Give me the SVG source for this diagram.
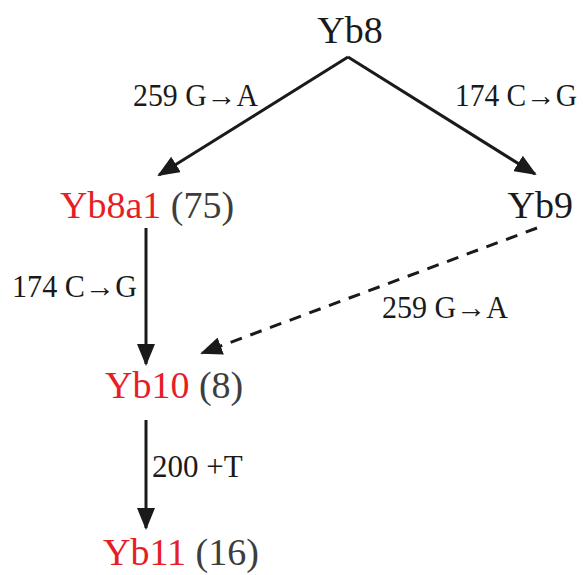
<svg xmlns="http://www.w3.org/2000/svg" width="583" height="575" viewBox="0 0 583 575">
<style>
.n{font-family:"Liberation Serif","Times New Roman",serif;font-size:38px;fill:#1a1a1a}
.r{fill:#e61e25}
.c{fill:#3d3d3d}
.l{font-family:"Liberation Serif","Times New Roman",serif;font-size:31px;fill:#1a1a1a}
.a{font-weight:bold}
.e{stroke:#1a1a1a;stroke-width:3;fill:none}
.d{stroke-dasharray:12 9}
</style>
<defs>
<marker id="ah" markerUnits="userSpaceOnUse" markerWidth="22" markerHeight="18" viewBox="0 0 22 18" refX="20" refY="9" orient="auto">
<path d="M0,0 L22,9 L0,18 Z" fill="#1a1a1a"/>
</marker>
</defs>
<rect width="583" height="575" fill="#fff"/>
<g id="connectors">
<line class="e" x1="348" y1="57" x2="159" y2="175" marker-end="url(#ah)"/>
<line class="e" x1="348" y1="57" x2="535" y2="174" marker-end="url(#ah)"/>
<line class="e" x1="146" y1="228" x2="146" y2="364" marker-end="url(#ah)"/>
<line class="e d" x1="537" y1="228" x2="202" y2="353" marker-end="url(#ah)"/>
<line class="e" x1="146" y1="420" x2="146" y2="528" marker-end="url(#ah)"/>
<text class="l" x="133" y="106" textLength="125" lengthAdjust="spacingAndGlyphs">259 G<tspan class="a">→</tspan>A</text>
<text class="l" x="455" y="106" textLength="122" lengthAdjust="spacingAndGlyphs">174 C<tspan class="a">→</tspan>G</text>
<text class="l" x="12" y="297" textLength="125" lengthAdjust="spacingAndGlyphs">174 C<tspan class="a">→</tspan>G</text>
<text class="l" x="382" y="318" textLength="126" lengthAdjust="spacingAndGlyphs">259 G<tspan class="a">→</tspan>A</text>
<text class="l" x="152" y="477">200 +T</text>
</g>
<g id="yb8"><text class="n" x="350" y="43" text-anchor="middle">Yb8</text></g>
<g id="yb8a1"><text class="n" x="60" y="218"><tspan class="r">Yb8a1</tspan> <tspan class="c">(75)</tspan></text></g>
<g id="yb9"><text class="n" x="573" y="218" text-anchor="end">Yb9</text></g>
<g id="yb10"><text class="n" x="105" y="398"><tspan class="r">Yb10</tspan> <tspan class="c">(8)</tspan></text></g>
<g id="yb11"><text class="n" x="103" y="565"><tspan class="r">Yb11</tspan> <tspan class="c">(16)</tspan></text></g>
</svg>
